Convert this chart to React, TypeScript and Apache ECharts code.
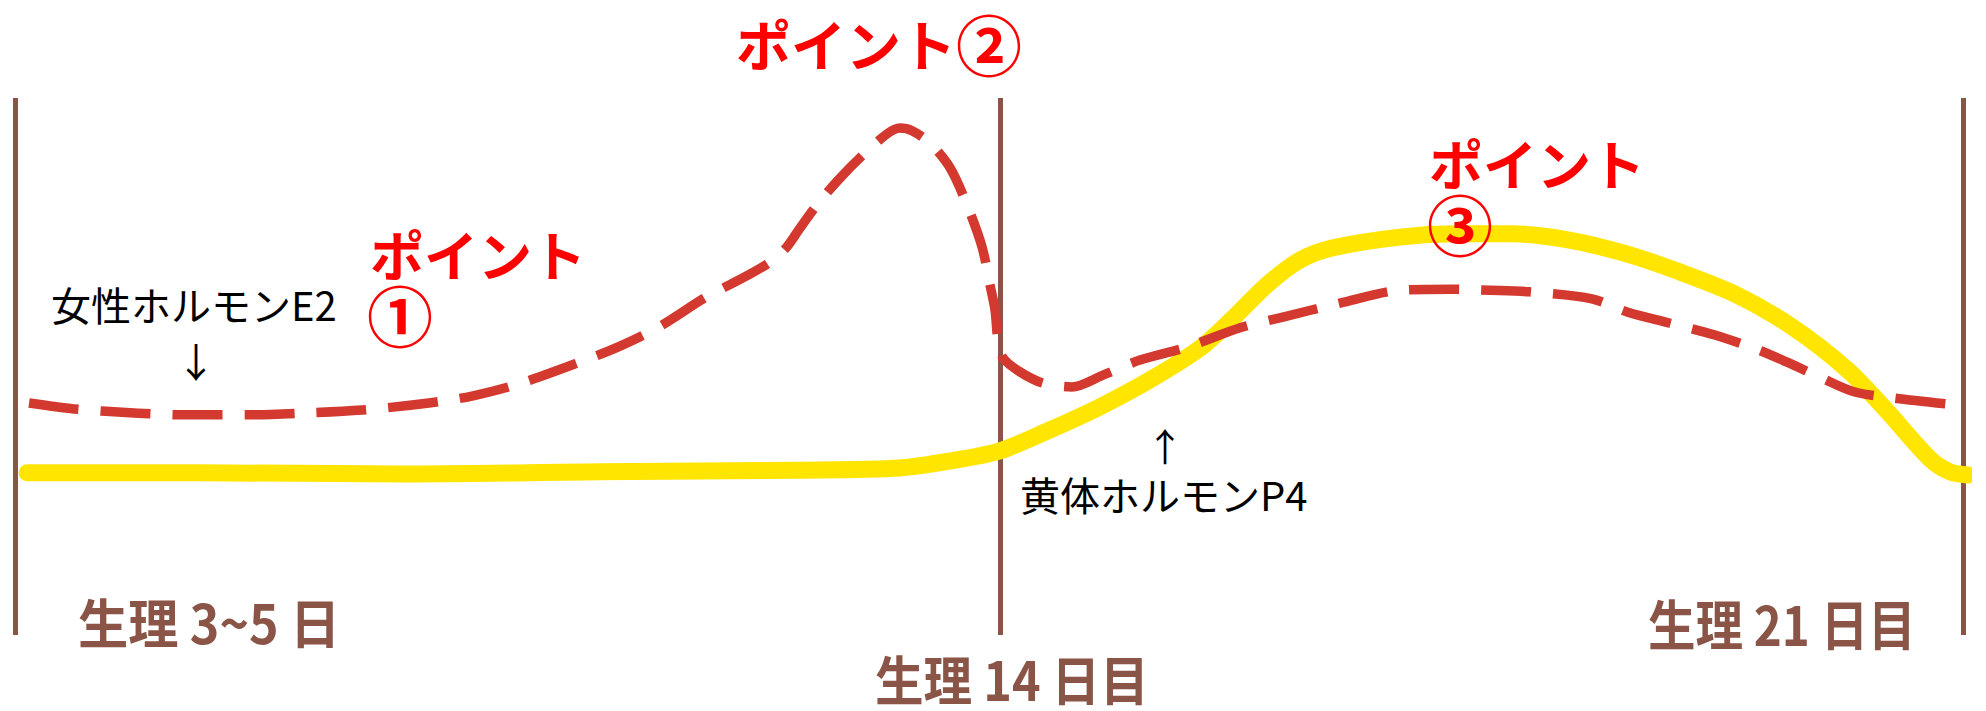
import React, { useEffect, useRef } from "react";
import * as echarts from "echarts";

// Position along the cycle (0 = 生理3~5日, ~50.6 = 生理14日目, 100 = 生理21日目)
// and relative hormone level (0..100).
const e2Points: [number, number][] = [
  [0.72, 43.2], [3.03, 42.1], [6.31, 41.3], [8.73, 41.0], [12.06, 41.0],
  [14.63, 41.3], [17.81, 41.9], [21.25, 43.2], [23.46, 44.5], [25.72, 46.6],
  [28.9, 50.7], [31.06, 53.8], [33.21, 57.7], [35.42, 62.8], [37.63, 67.0],
  [38.91, 69.8], [39.63, 72.3], [40.3, 75.8], [41.17, 80.1], [42.25, 84.7],
  [43.53, 89.4], [44.76, 93.3], [45.43, 94.4], [46.05, 93.9], [46.97, 91.6],
  [48.0, 87.0], [48.87, 80.1], [49.64, 72.3], [50.05, 65.2], [50.31, 60.5],
  [50.46, 54.9], [50.72, 51.6], [51.59, 49.0], [52.77, 46.9], [54.26, 46.2],
  [55.85, 48.4], [57.75, 51.2], [60.16, 53.6], [62.89, 57.2], [65.09, 59.2],
  [68.02, 61.8], [71.1, 64.2], [73.67, 64.4], [75.72, 64.2], [77.72, 63.9],
  [80.95, 62.6], [82.8, 60.1], [84.91, 58.1], [87.22, 55.9], [89.48, 53.1],
  [90.97, 50.8], [92.66, 48.0], [94.4, 45.3], [96.51, 44.1], [99.79, 42.8],
];

const p4Points: [number, number][] = [
  [0.62, 30.2], [9.5, 30.2], [19.8, 30.0], [30.0, 30.4], [40.3, 30.7],
  [45.43, 31.1], [48.0, 32.4], [50.56, 34.3], [53.13, 38.2], [55.7, 42.5],
  [58.26, 47.5], [60.83, 53.4], [62.53, 59.0], [64.27, 65.2], [65.96, 69.8],
  [67.66, 72.1], [71.1, 74.1], [73.97, 74.7], [76.85, 74.7], [79.72, 73.6],
  [82.6, 71.1], [85.47, 67.6], [88.35, 63.4], [91.22, 57.4], [94.1, 49.3],
  [96.05, 41.9], [98.36, 32.6], [99.33, 30.4], [100.26, 29.8],
];

const phaseLines: number[] = [0, 50.56, 100];
const phaseLabels: string[] = ["生理 3~5 日", "生理 14 日目", "生理 21 日目"];
const pointWord = "ポイント";
const pointMarks: string[] = ["①", "②", "③"];
const hormoneLabels: string[] = ["女性ホルモンE2", "黄体ホルモンP4"];

const JP = '"Noto Sans CJK JP", "Noto Sans", sans-serif';
const BROWN = "#8a5546";
const RED = "#ff0000";
const E2_COLOR = "#d3392f";
const P4_COLOR = "#ffe500";

export default function App() {
  const ref = useRef<HTMLDivElement>(null);

  useEffect(() => {
    if (!ref.current) return;
    const chart = echarts.init(ref.current, undefined, { renderer: "svg" });

    const txt = (text: string, x: number, y: number, size: number, color: string, bold: boolean, extra: any = {}) => {
      const { style: extraStyle, ...rest } = extra;
      return {
        type: "text",
        x,
        y,
        z: 100,
        ...rest,
        style: {
          text,
          fill: color,
          fontSize: size,
          fontWeight: bold ? "bold" : "normal",
          fontFamily: JP,
          textAlign: "left",
          textVerticalAlign: "middle",
          ...(extraStyle || {}),
        },
      };
    };

    const graphic: any[] = [
      // point labels
      {
        type: "text",
        x: 736,
        y: 42,
        z: 100,
        style: {
          text: `{a|${pointWord}}{b|${pointMarks[1]}}`,
          textAlign: "left",
          textVerticalAlign: "middle",
          fontFamily: JP,
          rich: {
            a: { fontSize: 55, fontWeight: "bold", fill: RED, fontFamily: JP, verticalAlign: "middle", lineHeight: 62 },
            b: { fontSize: 66, fontWeight: "bold", fill: RED, fontFamily: JP, verticalAlign: "middle", lineHeight: 62 },
          },
        },
      },
      txt(pointWord, 370, 253, 54, RED, true),
      txt(pointMarks[0], 400, 313, 66, RED, true, { style: { textAlign: "center" } }),
      txt(pointWord, 1429, 162, 54, RED, true),
      txt(pointMarks[2], 1460, 222, 66, RED, true, { style: { textAlign: "center" } }),
      // hormone labels
      txt(hormoneLabels[0], 51, 304, 40, "#000", false),
      txt("↓", 196, 360, 40, "#000", false, { style: { textAlign: "center" } }),
      txt("↑", 1165, 444, 38, "#000", false, { style: { textAlign: "center" } }),
      txt(hormoneLabels[1], 1020, 494, 40, "#000", false),
      // phase labels
      txt(phaseLabels[0], 78, 621, 54, BROWN, true, { scaleX: 0.93 }),
      txt(phaseLabels[1], 875, 677, 54, BROWN, true, { scaleX: 0.9 }),
      txt(phaseLabels[2], 1648, 623, 54, BROWN, true, { scaleX: 0.88 }),
    ];

    chart.setOption({
      animation: false,
      backgroundColor: "#ffffff",
      grid: { left: 15, right: 23, top: 98, bottom: 76 },
      xAxis: { type: "value", min: 0, max: 100, show: false },
      yAxis: { type: "value", min: 0, max: 100, show: false },
      graphic,
      series: [
        {
          name: "黄体ホルモンP4",
          type: "line",
          data: p4Points,
          smooth: 0.3,
          symbol: "none",
          clip: false,
          z: 3,
          lineStyle: { color: P4_COLOR, width: 17, cap: "round", join: "round" },
          markLine: {
            silent: true,
            symbol: "none",
            label: { show: false },
            lineStyle: { color: BROWN, width: 5, type: "solid" },
            data: phaseLines.map((v) => ({ xAxis: v })),
            z: 1,
          },
        },
        {
          name: "女性ホルモンE2",
          type: "line",
          data: e2Points,
          smooth: 0.3,
          symbol: "none",
          clip: false,
          z: 4,
          lineStyle: { color: E2_COLOR, width: 9.5, type: [50, 22], cap: "butt", join: "round" },
        },
      ],
    });

    return () => chart.dispose();
  }, []);

  return (
    <div
      ref={ref}
      style={{ position: "fixed", left: 0, top: 0, width: 1986, height: 711, background: "#fff" }}
    />
  );
}
